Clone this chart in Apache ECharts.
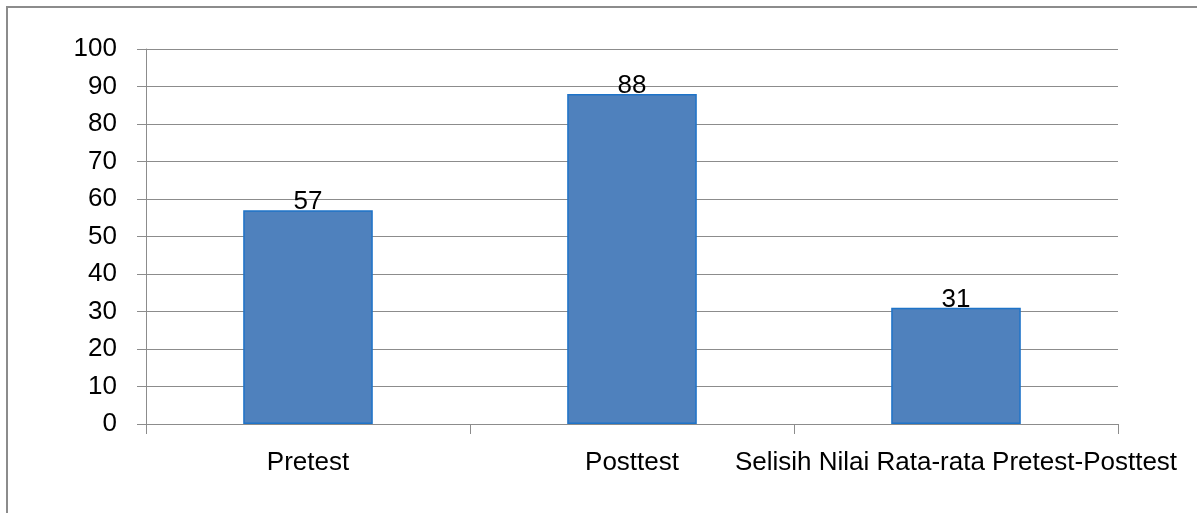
<!DOCTYPE html>
<html>
<head>
<meta charset="utf-8">
<script src="https://cdn.jsdelivr.net/npm/echarts@6/dist/echarts.min.js"></script>
<style>
html,body{margin:0;padding:0;background:#fff;}
#chart{width:1197px;height:513px;}
</style>
</head>
<body>
<div id="chart"></div>
<script>
const categories = ['Pretest', 'Posttest', 'Selisih Nilai Rata-rata Pretest-Posttest'];
const values = [57, 88, 31];
const yTicks = [0, 10, 20, 30, 40, 50, 60, 70, 80, 90, 100];

const FONT = '"Liberation Sans Narrow", "Arial Narrow", "Liberation Sans", Arial, sans-serif';
const chart = echarts.init(document.getElementById('chart'));
chart.setOption({
  animation: false,
  backgroundColor: '#fff',
  graphic: [
    { type: 'line', shape: { x1: 7, y1: 6, x2: 7, y2: 513 }, style: { stroke: '#8c8c8c', lineWidth: 2 } },
    { type: 'line', shape: { x1: 6, y1: 7, x2: 1197, y2: 7 }, style: { stroke: '#8c8c8c', lineWidth: 2 } }
  ],
  grid: { left: 146, right: 79, top: 49, bottom: 89, containLabel: false },
  xAxis: {
    type: 'category',
    data: categories,
    axisLine: { show: true, lineStyle: { color: '#8c8c8c', width: 1 } },
    axisTick: { show: true, length: 10, lineStyle: { color: '#8c8c8c' } },
    axisLabel: { color: '#000', fontFamily: FONT, fontSize: 26, margin: 26, interval: 0 }
  },
  yAxis: {
    type: 'value',
    min: yTicks[0],
    max: yTicks[yTicks.length - 1],
    interval: 10,
    axisLine: { show: true, lineStyle: { color: '#8c8c8c', width: 1 } },
    axisTick: { show: true, length: 9, inside: false, lineStyle: { color: '#8c8c8c' } },
    splitLine: { show: true, lineStyle: { color: '#8c8c8c', width: 1 } },
    axisLabel: { color: '#000', fontFamily: FONT, fontSize: 26, margin: 29 }
  },
  series: [{
    type: 'bar',
    data: values,
    barWidth: '40%',
    itemStyle: { color: '#4F81BD', borderColor: '#1E73C8', borderWidth: 1.5 },
    label: { show: true, position: 'top', distance: -5, color: '#000', fontFamily: FONT, fontSize: 26 }
  }]
});
</script>
</body>
</html>
